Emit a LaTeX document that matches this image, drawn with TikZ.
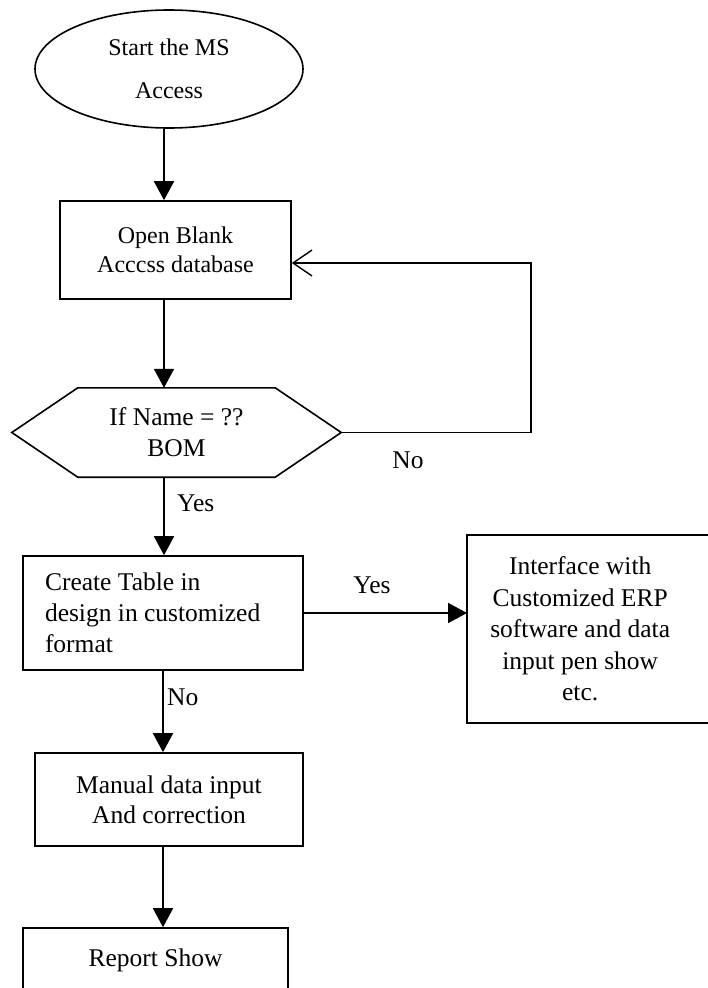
\documentclass[tikz,border=0pt]{standalone}
\usepackage{fontspec}
\setmainfont{Liberation Serif}
\usetikzlibrary{shapes.geometric,arrows.meta}
\tikzset{
  box/.style={draw, line width=1.6pt, rectangle, inner sep=0pt, align=center, font=\fontsize{25.5}{31}\selectfont},
  arr/.style={line width=1.8pt, -{Triangle[length=19pt,width=20pt]}},
  backarr/.style={line width=1.8pt, -{Straight Barb[length=19pt,width=26pt,line width=1.4pt]}},
  lbl/.style={font=\fontsize{25.5}{31}\selectfont, inner sep=0pt}
}
\begin{document}
\begin{tikzpicture}[x=1pt,y=-1pt]
\useasboundingbox[fill=white] (0,0) rectangle (708,988);
% nodes
\node[ellipse, draw, line width=1.6pt, minimum width=268pt, minimum height=118pt, inner sep=0pt, align=center, font=\fontsize{24}{43}\selectfont] (start) at (169,69) {Start the MS\\Access};
\node[box, minimum width=231pt, minimum height=98pt, font=\fontsize{24}{29}\selectfont] (open) at (175.5,250) {Open Blank\\Acccss database};
\node[inner sep=0pt, minimum width=329pt, minimum height=89pt, align=center, font=\fontsize{25.5}{31}\selectfont] (hex) at (176.5,432.5) {If Name = ??\\BOM};
\draw[line width=1.6pt] (hex.west) -- ([xshift=66pt]hex.north west) -- ([xshift=-66pt]hex.north east) -- (hex.east) -- ([xshift=-66pt]hex.south east) -- ([xshift=66pt]hex.south west) -- cycle;
\node[box, minimum width=280pt, minimum height=114pt, align=flush left, text width=236pt] (create) at (163,613) {Create Table in\\design in customized\\format};
\node[inner sep=0pt, minimum width=226pt, minimum height=188pt, align=center, font=\fontsize{25.5}{31.5}\selectfont, anchor=west] (iface) at (467,629) {Interface with\\Customized ERP\\software and data\\input pen show\\etc.};
\draw[line width=1.6pt] (iface.north west) rectangle ([xshift=30pt]iface.south east);
\node[box, minimum width=268pt, minimum height=93pt, font=\fontsize{25.5}{30}\selectfont] (manual) at (169,799.5) {Manual data input\\And correction};
\node[box, minimum width=265pt, minimum height=64pt] (report) at (155.5,960) {Report Show};
% connectors
\coordinate (colx) at (164,0);
\coordinate (fbcorner) at (531,263);
\draw[arr] (start.south -| colx) -- (open.north -| colx);
\draw[arr] (open.south -| colx) -- (hex.north -| colx);
\draw[arr] (hex.south -| colx) -- (create.north -| colx);
\draw[backarr] (hex.east) -| (fbcorner) -- (open.east |- fbcorner);
\draw[arr] (create.east) -- (create.east -| iface.west);
\draw[arr] ([xshift=-1pt]create.south -| colx) -- ([xshift=-1pt]manual.north -| colx);
\draw[arr] ([xshift=-1pt]manual.south -| colx) -- ([xshift=-1pt]report.north -| colx);
% labels
\node[lbl] (lno1) at (408,460) {No};
\node[lbl, anchor=west] (lyes1) at (177,503) {Yes};
\node[lbl] (lyes2) at (372,585) {Yes};
\node[lbl, anchor=west] (lno2) at (167,697) {No};
\end{tikzpicture}
\end{document}
